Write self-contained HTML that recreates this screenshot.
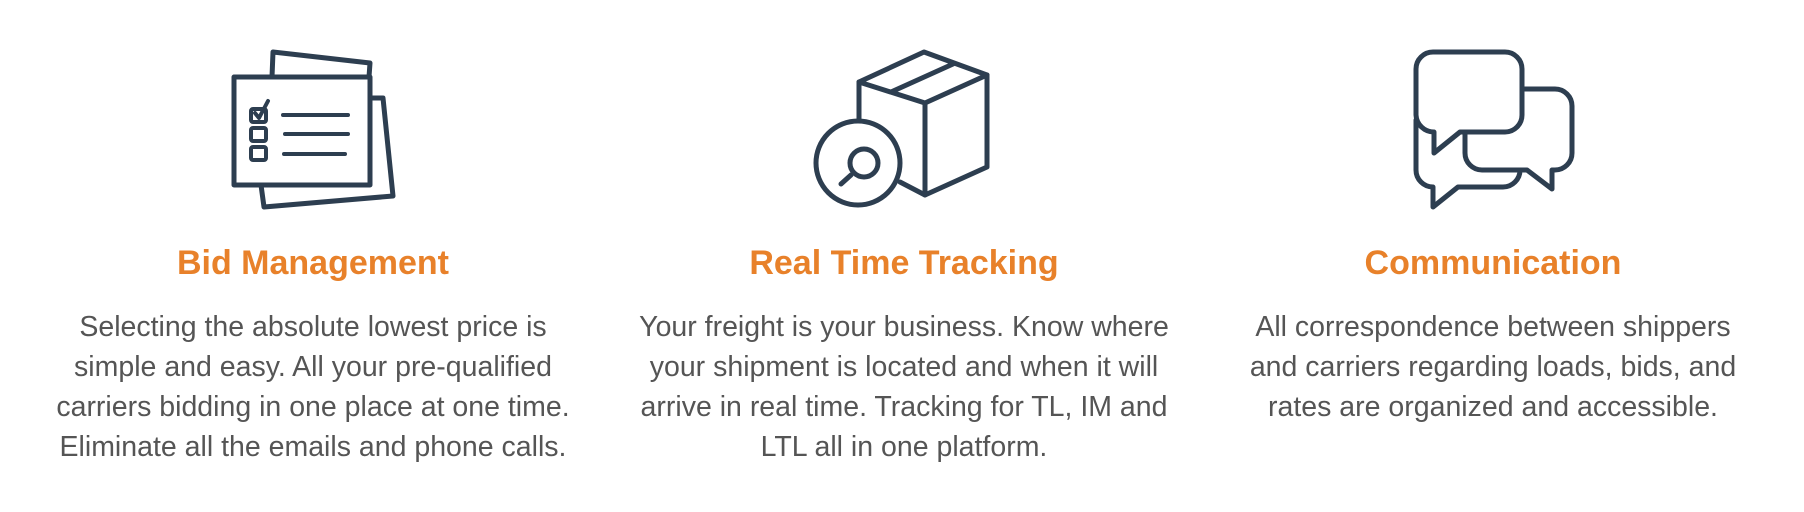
<!DOCTYPE html>
<html><head><meta charset="utf-8"><style>
body{margin:0;width:1804px;height:512px;background:#fff;overflow:hidden;position:relative;font-family:"Liberation Sans",sans-serif}
.t{position:absolute;width:700px;text-align:center;color:#e8812a;font-weight:bold;font-size:34px;top:245px;line-height:36px}
.b{position:absolute;width:700px;text-align:center;color:#555;font-size:28.5px;line-height:40px;top:307px;white-space:nowrap}
svg{position:absolute;left:0;top:0}
</style></head><body>
<svg width="1804" height="512" fill="none" stroke="#2d3e50" stroke-width="5" stroke-linejoin="round" stroke-linecap="round">
<polyline points="272,77 273,52 370,63 369,77"/>
<polyline points="370,98 383,98 393,196 264,207 261,185"/>
<rect x="234" y="77" width="136" height="108" fill="#fff"/>
<rect x="251" y="109" width="15" height="13" rx="2" stroke-width="4"/>
<rect x="251" y="128" width="15" height="13" rx="2" stroke-width="4"/>
<rect x="251" y="147" width="15" height="13" rx="2" stroke-width="4"/>
<polyline points="255,113 259,118 268,101" stroke-width="4"/>
<line x1="283" y1="115" x2="348" y2="115" stroke-width="4"/>
<line x1="285" y1="134" x2="348" y2="134" stroke-width="4"/>
<line x1="284" y1="154" x2="345" y2="154" stroke-width="4"/>
<polyline points="859,123 859,82 924,52 987,75 987,167 925,195 900,182"/>
<polyline points="859,82 925,103 987,75"/>
<line x1="925" y1="103" x2="925" y2="195"/>
<line x1="891" y1="92" x2="953" y2="64"/>
<circle cx="858" cy="163" r="42" fill="#fff"/>
<circle cx="864" cy="163" r="14"/>
<line x1="841" y1="184" x2="851" y2="175"/>
<path d="M1416,120 V170 a17,17 0 0 0 17,17 V207 L1458,187 H1503 a17,17 0 0 0 17,-17"/>
<path d="M1522,89 H1555 a17,17 0 0 1 17,17 V153 a17,17 0 0 1 -17,17 H1552 V189 L1527,170 H1482 a17,17 0 0 1 -17,-17 V132"/>
<path d="M1433,52 H1505 a17,17 0 0 1 17,17 V115 a17,17 0 0 1 -17,17 H1460 L1434,153 V132 a18,18 0 0 1 -18,-17 V69 a17,17 0 0 1 17,-17 Z" fill="#fff"/>
</svg>
<div class="t" style="left:-37px">Bid Management</div>
<div class="t" style="left:554px">Real Time Tracking</div>
<div class="t" style="left:1143px">Communication</div>
<div class="b" style="left:-37px">Selecting the absolute lowest price is<br>simple and easy. All your pre-qualified<br>carriers bidding in one place at one time.<br>Eliminate all the emails and phone calls.</div>
<div class="b" style="left:554px">Your freight is your business. Know where<br>your shipment is located and when it will<br>arrive in real time. Tracking for TL, IM and<br>LTL all in one platform.</div>
<div class="b" style="left:1143px">All correspondence between shippers<br>and carriers regarding loads, bids, and<br>rates are organized and accessible.</div>
</body></html>
